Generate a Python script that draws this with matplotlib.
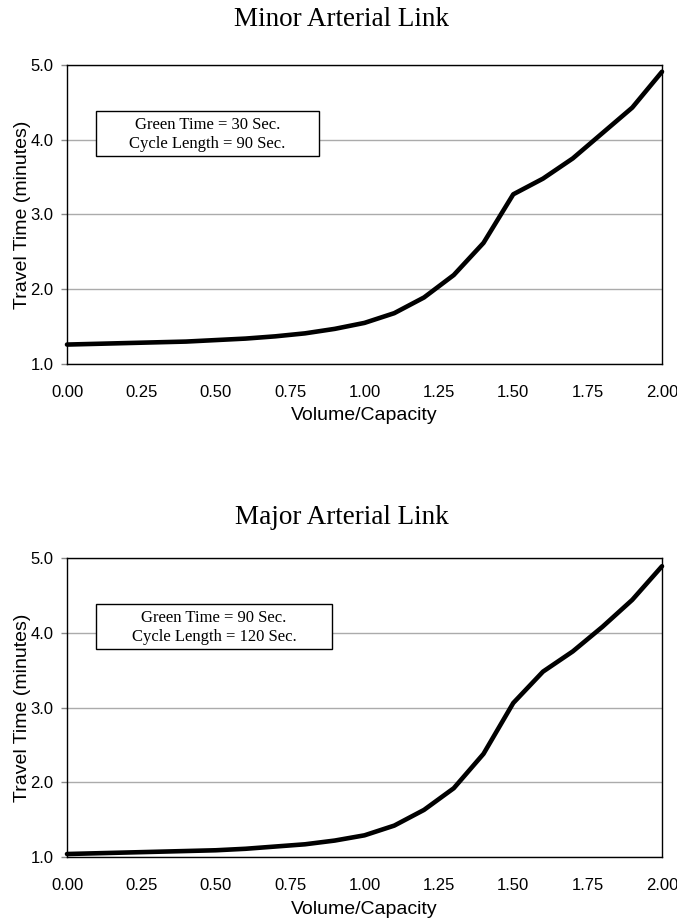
import matplotlib
matplotlib.use("Agg")
import matplotlib.pyplot as plt

x = [0.0, 0.1, 0.2, 0.3, 0.4, 0.5, 0.6, 0.7, 0.8, 0.9, 1.0,
     1.1, 1.2, 1.3, 1.4, 1.5, 1.6, 1.7, 1.8, 1.9, 2.0]
minor_tt = [1.26, 1.27, 1.28, 1.29, 1.30, 1.32, 1.34, 1.37, 1.41, 1.47, 1.55,
            1.68, 1.89, 2.19, 2.62, 3.27, 3.48, 3.75, 4.09, 4.43, 4.91]
major_tt = [1.04, 1.05, 1.06, 1.07, 1.08, 1.09, 1.11, 1.14, 1.17, 1.22, 1.29,
            1.42, 1.63, 1.92, 2.38, 3.06, 3.48, 3.75, 4.08, 4.44, 4.89]
titles = ["Minor Arterial Link", "Major Arterial Link"]
notes = ["Green Time = 30 Sec.\nCycle Length = 90 Sec.",
         "Green Time = 90 Sec.\nCycle Length = 120 Sec."]
xticks = [0.0, 0.25, 0.5, 0.75, 1.0, 1.25, 1.5, 1.75, 2.0]
yticks = [1.0, 2.0, 3.0, 4.0, 5.0]

W, H = 677, 919
fig = plt.figure(figsize=(W / 100, H / 100), dpi=100)

# pixel layout: left, top, right, bottom
boxes = [(67, 65, 662, 364), (67, 558, 662, 857)]
note_boxes = [(96, 111, 319, 156), (96, 604, 332, 649)]
title_y = [20, 517]
series = [minor_tt, major_tt]

SANS = "Liberation Sans"
SERIF = "Liberation Serif"

for i in range(2):
    l, t, r, b = boxes[i]
    ah = b - t
    aw = r - l
    ax = fig.add_axes([l / W, 1 - b / H, aw / W, ah / H])
    ax.plot(x, series[i], color="black", lw=3.3, solid_capstyle="round",
            solid_joinstyle="round", zorder=3, clip_on=False)
    ax.set_xlim(0, 2.0)
    ax.set_ylim(1.0, 5.0)
    ax.set_xticks(xticks)
    ax.set_xticklabels([f"{v:.2f}" for v in xticks])
    ax.set_yticks(yticks)
    ax.set_yticklabels([f"{v:.1f}" for v in yticks])
    ax.yaxis.grid(True, color="#ababab", lw=1.0)
    ax.set_axisbelow(True)
    for s in ax.spines.values():
        s.set_color("black")
        s.set_linewidth(1.0)
    ax.tick_params(axis="x", length=0, labelsize=12, pad=15)
    ax.tick_params(axis="y", direction="out", length=4.3, width=1.0,
                   color="#8a8a8a", labelsize=12, pad=5.5)
    for lab in ax.get_xticklabels() + ax.get_yticklabels():
        lab.set_fontfamily(SANS)
    ax.set_xlabel("Volume/Capacity", fontsize=14, fontfamily=SANS)
    ax.xaxis.label.set_va("center")
    ax.xaxis.set_label_coords(0.5, -52 / ah)
    ax.set_ylabel("Travel Time (minutes)", fontsize=14, fontfamily=SANS)
    ax.yaxis.label.set_va("center")
    ax.yaxis.set_label_coords((23 - l) / aw, 0.5)

    fig.text(342 / W, 1 - title_y[i] / H, titles[i], ha="center", va="center",
             fontsize=19.5, fontfamily=SERIF)

    nl, nt, nr, nb = note_boxes[i]
    fig.patches.append(plt.Rectangle((nl / W, 1 - nb / H), (nr - nl) / W, (nb - nt) / H,
                                     transform=fig.transFigure, facecolor="white",
                                     edgecolor="black", lw=1.0, zorder=4))
    fig.text((nl + nr) / 2 / W, 1 - ((nt + nb) / 2 + 1) / H, notes[i], ha="center",
             va="center", fontsize=12, fontfamily=SERIF, linespacing=1.25, zorder=5)

fig.savefig("out.png", dpi=100)
